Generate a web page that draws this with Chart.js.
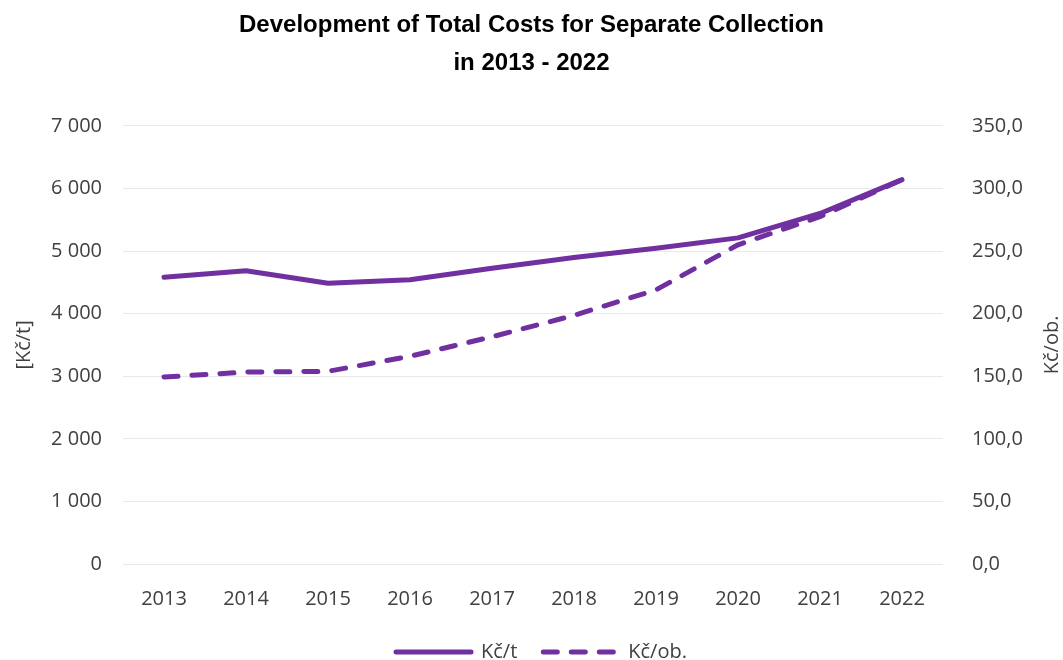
<!DOCTYPE html>
<html>
<head>
<meta charset="utf-8">
<title>Development of Total Costs for Separate Collection</title>
<script src="https://cdn.jsdelivr.net/npm/chart.js@4.4.0/dist/chart.umd.min.js"></script>
<style>
  html, body { margin: 0; padding: 0; background: #fff; }
  #wrap { width: 1063px; height: 660px; }
</style>
</head>
<body>
<div id="wrap"><canvas id="myChart" width="1063" height="660"></canvas></div>
<script>
// Roky a hodnoty nákladů
const years = ['2013', '2014', '2015', '2016', '2017', '2018', '2019', '2020', '2021', '2022'];
const perTonne = [4580, 4685, 4485, 4540, 4725, 4895, 5045, 5210, 5600, 6140];
const perCapita = [149.4, 153.3, 153.9, 165.9, 181.5, 198.6, 219.0, 255.0, 277.5, 307.0];
const leftTicks = [0, 1000, 2000, 3000, 4000, 5000, 6000, 7000];
const rightTicks = [0, 50, 100, 150, 200, 250, 300, 350];

const purple = '#7030A0';
const tickColor = '#404040';
const tickFont = { family: 'Open Sans', size: 20 };

// Popisek pravé osy (čte se zdola nahoru)
const rightTitle = {
    id: 'rightTitle',
    afterDraw(chart) {
        const ctx = chart.ctx;
        const area = chart.chartArea;
        ctx.save();
        ctx.translate(1052, (area.top + area.bottom) / 2);
        ctx.rotate(-Math.PI / 2);
        ctx.fillStyle = tickColor;
        ctx.font = '20px "Open Sans"';
        ctx.textAlign = 'center';
        ctx.textBaseline = 'middle';
        ctx.fillText('Kč/ob.', 0, 0);
        ctx.restore();
    }
};

// Legendu posunout doprava a níž ke spodnímu okraji
const legendShift = {
    id: 'legendShift',
    afterLayout(chart) {
        const lg = chart.legend;
        lg.left += 10;
        lg.right += 10;
        lg.top += 12;
        lg.bottom += 12;
    }
};

const ctx = document.getElementById('myChart').getContext('2d');
const myChart = new Chart(ctx, {
    type: 'line',
    data: {
        labels: years,
        datasets: [{
            label: 'Kč/t',
            data: perTonne,
            yAxisID: 'y',
            borderColor: purple,
            backgroundColor: purple,
            borderWidth: 5,
            borderCapStyle: 'round',
            borderJoinStyle: 'round',
            pointRadius: 0,
            tension: 0
        }, {
            label: 'Kč/ob.',
            data: perCapita,
            yAxisID: 'y1',
            borderColor: purple,
            backgroundColor: purple,
            borderWidth: 5,
            borderDash: [14, 14],
            borderCapStyle: 'round',
            borderJoinStyle: 'round',
            pointRadius: 0,
            tension: 0
        }]
    },
    options: {
        responsive: false,
        animation: false,
        layout: { padding: 0 },
        plugins: {
            title: {
                display: true,
                text: ['Development of Total Costs for Separate Collection', 'in 2013 - 2022'],
                color: '#000',
                font: { family: 'Liberation Sans', size: 24, weight: 'bold', lineHeight: 1.58 },
                padding: { top: 6, bottom: 44 }
            },
            legend: {
                position: 'bottom',
                labels: {
                    usePointStyle: true,
                    pointStyle: 'line',
                    pointStyleWidth: 75,
                    color: tickColor,
                    font: tickFont,
                    padding: 0,
                    // čára v legendě přebírá styl datové řady (i přerušovanou)
                    generateLabels: chart => {
                        const items = Chart.defaults.plugins.legend.labels.generateLabels(chart);
                        items.forEach((item, i) => {
                            const ds = chart.data.datasets[item.datasetIndex];
                            item.lineDash = ds.borderDash || [];
                            item.lineCap = 'round';
                            item.lineWidth = 5;
                            item.strokeStyle = purple;
                            if (i < items.length - 1) item.text += '     ';
                        });
                        return items;
                    }
                }
            },
            tooltip: { enabled: false }
        },
        scales: {
            x: {
                offset: true,
                grid: { display: false },
                border: { display: false },
                ticks: { color: tickColor, font: tickFont, padding: 15 },
                afterFit: scale => { scale.height = 66; }
            },
            y: {
                position: 'left',
                min: 0,
                max: 7000,
                afterBuildTicks: axis => { axis.ticks = leftTicks.map(v => ({ value: v })); },
                afterFit: scale => { scale.width = 123; },
                grid: { color: '#e9e9e9', lineWidth: 1, drawTicks: false },
                border: { display: false },
                title: { display: true, text: '[Kč/t]', color: tickColor, font: tickFont, padding: { top: 12, bottom: 0 } },
                ticks: {
                    color: tickColor,
                    font: tickFont,
                    padding: 21,
                    callback: v => v.toString().replace(/\B(?=(\d{3})+(?!\d))/g, ' ')
                }
            },
            y1: {
                position: 'right',
                min: 0,
                max: 350,
                afterBuildTicks: axis => { axis.ticks = rightTicks.map(v => ({ value: v })); },
                afterFit: scale => { scale.width = 120; },
                grid: { display: false, drawTicks: false },
                border: { display: false },
                ticks: {
                    color: tickColor,
                    font: tickFont,
                    padding: 29,
                    callback: v => v.toFixed(1).replace('.', ',')
                }
            }
        }
    },
    plugins: [rightTitle, legendShift]
});
</script>
</body>
</html>
